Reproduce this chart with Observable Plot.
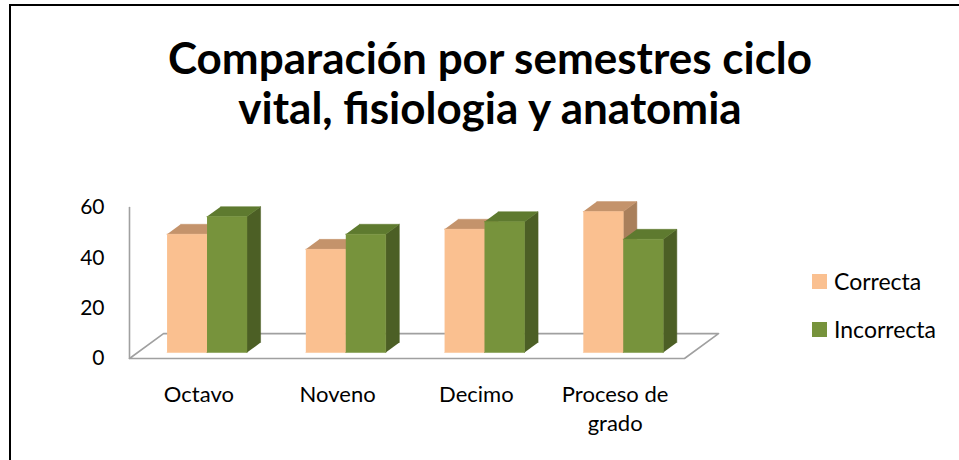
<!DOCTYPE html>
<html>
<head>
<meta charset="utf-8">
<script src="https://cdn.jsdelivr.net/npm/d3@7"></script>
<script src="https://cdn.jsdelivr.net/npm/@observablehq/plot@0.6"></script>
<style>
  html, body { margin: 0; padding: 0; background: #fff; }
  #wrap { position: relative; width: 959px; height: 460px; overflow: hidden; font-family: Lato, "Open Sans", sans-serif; }
  #frame { position: absolute; left: 9px; top: 4px; width: 1000px; height: 500px; border-top: 2px solid #000; border-left: 2px solid #000; }
  #title { position: absolute; left: 0; width: 980px; top: 32px; text-align: center; font-weight: bold; font-size: 44px; line-height: 50px; color: #000; }
  #chart { position: absolute; left: 0; top: 0; }
  .leg { position: absolute; left: 812px; font-size: 23px; color: #000; display: flex; align-items: center; }
  .leg span.sw { display: inline-block; width: 15px; height: 15px; margin-right: 7px; }
</style>
</head>
<body>
<div id="wrap">
  <div id="frame"></div>
  <div id="chart"></div>
  <div id="title">Comparación por semestres ciclo<br>vital, fisiologia y anatomia</div>
  <div id="legend"></div>
</div>
<script>
// ---- data ----
const categories = ["Octavo", "Noveno", "Decimo", "Proceso de grado"];
const tickLabels = ["Octavo", "Noveno", "Decimo", "Proceso de\ngrado"];
const seriesNames = ["Correcta", "Incorrecta"];
const correcta = [47, 41, 49, 56];
const incorrecta = [54, 47, 52, 45];
const yTicks = [0, 20, 40, 60];

// ---- styling ----
const frontColors = ["#FAC090", "#77933C"];
const topColors = ["#C4936B", "#5E7A2F"];
const sideColors = ["#A97F5B", "#4C5F25"];
const DX = 0.245;   // x shift (category units) per unit of depth
const DY = 9.9;     // y shift (value units) per unit of depth
const Z0 = 0.24, Z1 = 0.64; // bar depth span
const BW = 0.288;  // bar width in category units

const P = (x, y, z) => ({x: x + z * DX, y: y + z * DY});

const values = [correcta, incorrecta];
const polys = [];
let id = 0;
categories.forEach((c, i) => {
  seriesNames.forEach((s, j) => {
    const v = values[j][i];
    const x1 = i - BW + j * BW, x2 = x1 + BW;
    const faces = [
      {color: sideColors[j], pts: [P(x2, 0, Z0), P(x2, v, Z0), P(x2, v, Z1), P(x2, 0, Z1)]},
      {color: topColors[j], pts: [P(x1, v, Z0), P(x2, v, Z0), P(x2, v, Z1), P(x1, v, Z1)]},
      {color: frontColors[j], pts: [P(x1, 0, Z0), P(x2, 0, Z0), P(x2, v, Z0), P(x1, v, Z0)]}
    ];
    faces.forEach(f => {
      id++;
      f.pts.forEach(p => polys.push({id, color: f.color, x: p.x, y: p.y}));
    });
  });
});

const xmin = -0.5, xmax = categories.length - 0.5;
const floor = [P(xmin, 0, 0), P(xmax, 0, 0), P(xmax, 0, 1), P(xmin, 0, 1), P(xmin, 0, 0)];

const chart = Plot.plot({
  width: 959,
  height: 460,
  marginLeft: 129,
  marginRight: 275,
  marginTop: 207,
  marginBottom: 102,
  style: {background: "transparent", fontFamily: "Lato, 'Open Sans', sans-serif"},
  x: {domain: [xmin, xmax], axis: null},
  y: {domain: [0, 60], axis: null},
  color: {type: "identity"},
  marks: [
    Plot.line(floor, {x: "x", y: "y", stroke: "#A0A0A0", strokeWidth: 1.6}),
    Plot.line([{x: xmin, y: 0}, {x: xmin, y: 60}], {x: "x", y: "y", stroke: "#A0A0A0", strokeWidth: 1.6}),
    Plot.line(polys, {x: "x", y: "y", z: "id", fill: "color", stroke: "color", strokeWidth: 0.5}),
    Plot.text(yTicks, {x: xmin, y: d => d, text: d => String(d), dx: -25, textAnchor: "end", fontSize: 21, fill: "#000"}),
    Plot.text(tickLabels, {x: (d, i) => i, y: 0, text: d => d, dy: 22, lineAnchor: "top", lineHeight: 1.35, fontSize: 22, fill: "#000"})
  ]
});
document.getElementById("chart").appendChild(chart);

const legend = document.getElementById("legend");
seriesNames.forEach((s, j) => {
  const d = document.createElement("div");
  d.className = "leg";
  d.style.top = (267 + j * 48) + "px";
  d.innerHTML = `<span class="sw" style="background:${frontColors[j]}"></span><span>${s}</span>`;
  legend.appendChild(d);
});
</script>
</body>
</html>
